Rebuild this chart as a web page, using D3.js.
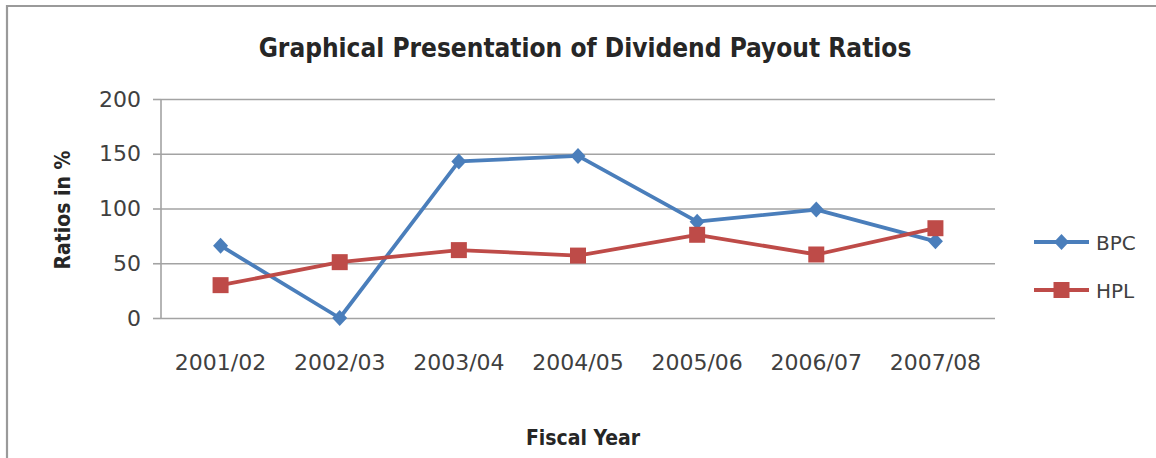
<!DOCTYPE html>
<html>
<head>
<meta charset="utf-8">
<script src="https://cdn.jsdelivr.net/npm/d3@7"></script>
<style>
  html, body { margin: 0; padding: 0; background: #fff; }
  svg { display: block; font-family: "DejaVu Sans", sans-serif; }
  .cond { font-family: "DejaVu Sans Condensed", "DejaVu Sans", sans-serif; font-stretch: condensed; }
</style>
</head>
<body>
<svg id="chart" width="1156" height="458"></svg>
<script>
// Fiscal years on the category axis
const years = ["2001/02", "2002/03", "2003/04", "2004/05", "2005/06", "2006/07", "2007/08"];
// Dividend payout ratios (%) per company
const bpc = [66, 0, 143, 148, 88, 99, 70];
const hpl = [30, 51, 62, 57, 76, 58, 82];
// Value axis ticks
const yTicks = [0, 50, 100, 150, 200];

const seriesList = [
  { name: "BPC", values: bpc, color: "#4a7ebb", marker: "diamond" },
  { name: "HPL", values: hpl, color: "#be4b48", marker: "square" }
];

const svg = d3.select("#chart");
const plot = { left: 161, right: 995, top: 99, bottom: 318 };

const x = d3.scaleBand().domain(years).range([plot.left, plot.right]).padding(0);
const y = d3.scaleLinear().domain([0, 200]).range([plot.bottom, plot.top]);
const cx = d => x(d) + x.bandwidth() / 2;

// Outer chart frame (left and top edges)
svg.append("path")
  .attr("d", "M7,458 V6 H1156")
  .attr("fill", "none")
  .attr("stroke", "#9a9a9a")
  .attr("stroke-width", 2.2);

// Title
svg.append("text")
  .attr("class", "cond")
  .attr("x", 585).attr("y", 57)
  .attr("text-anchor", "middle")
  .attr("font-size", 26).attr("font-weight", "bold")
  .attr("fill", "#262626")
  .text("Graphical Presentation of Dividend Payout Ratios");

// Horizontal gridlines with left tick marks
const yAxis = d3.axisLeft(y).tickValues(yTicks)
  .tickSize(-(plot.right - plot.left)).tickPadding(20).tickFormat(d3.format("d"));
const gy = svg.append("g").attr("transform", `translate(${plot.left},0)`).call(yAxis);
gy.select(".domain").remove();
gy.selectAll(".tick line").attr("stroke", "#a3a3a3").attr("stroke-width", 1.6);
gy.selectAll(".tick").append("line")
  .attr("x1", -8).attr("x2", 0).attr("stroke", "#a3a3a3").attr("stroke-width", 1.6);
gy.selectAll(".tick text")
  .attr("font-size", 22).attr("fill", "#404040")
  .attr("font-family", "DejaVu Sans, sans-serif");

// Vertical axis line
svg.append("line")
  .attr("x1", plot.left).attr("x2", plot.left)
  .attr("y1", y(200)).attr("y2", y(0))
  .attr("stroke", "#a3a3a3").attr("stroke-width", 1.6);

// Category labels
const xAxis = d3.axisBottom(x).tickSize(0).tickPadding(36);
const gx = svg.append("g").attr("transform", `translate(0,${plot.bottom})`).call(xAxis);
gx.select(".domain").remove();
gx.selectAll(".tick text")
  .attr("font-size", 22).attr("fill", "#404040")
  .attr("font-family", "DejaVu Sans, sans-serif");

// Axis titles
svg.append("text")
  .attr("class", "cond")
  .attr("transform", "translate(70,210) rotate(-90)")
  .attr("text-anchor", "middle")
  .attr("font-size", 21).attr("font-weight", "bold")
  .attr("fill", "#262626")
  .text("Ratios in %");

svg.append("text")
  .attr("class", "cond")
  .attr("x", 583).attr("y", 445)
  .attr("text-anchor", "middle")
  .attr("font-size", 21).attr("font-weight", "bold")
  .attr("fill", "#262626")
  .text("Fiscal Year");

// Marker shapes centred on the origin
function markerPath(kind) {
  if (kind === "diamond") return "M0,-8 L7.5,0 L0,8 L-7.5,0 Z";
  return "M-8,-8 H8 V8 H-8 Z";
}

const line = d3.line().x((d, i) => cx(years[i])).y(d => y(d));

seriesList.forEach(s => {
  const g = svg.append("g");
  g.append("path")
    .datum(s.values)
    .attr("d", line)
    .attr("fill", "none")
    .attr("stroke", s.color)
    .attr("stroke-width", 3.8)
    .attr("stroke-linejoin", "round");
  g.selectAll("path.mk")
    .data(s.values)
    .join("path")
    .attr("class", "mk")
    .attr("d", markerPath(s.marker))
    .attr("transform", (d, i) => `translate(${cx(years[i])},${y(d)})`)
    .attr("fill", s.color);
});

// Legend
const legend = svg.append("g");
seriesList.forEach((s, i) => {
  const ly = 242 + i * 48;
  legend.append("line")
    .attr("x1", 1034).attr("x2", 1089).attr("y1", ly).attr("y2", ly)
    .attr("stroke", s.color).attr("stroke-width", 3.8);
  legend.append("path")
    .attr("d", markerPath(s.marker))
    .attr("transform", `translate(1061.5,${ly})`)
    .attr("fill", s.color);
  legend.append("text")
    .attr("x", 1096).attr("y", ly + 7.5)
    .attr("font-size", 20).attr("fill", "#404040")
    .text(s.name);
});
</script>
</body>
</html>
